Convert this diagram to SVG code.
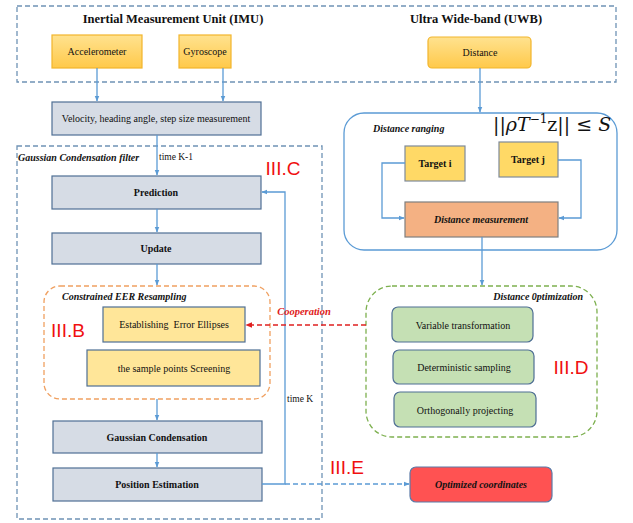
<svg xmlns="http://www.w3.org/2000/svg" width="633" height="523" viewBox="0 0 633 523">
<defs>
<linearGradient id="gold" x1="0" y1="0" x2="0" y2="1">
<stop offset="0" stop-color="#FFE28F"/><stop offset="1" stop-color="#FFC94A"/>
</linearGradient>
<marker id="ah" viewBox="0 0 10 10" refX="9" refY="5" markerWidth="6" markerHeight="6" orient="auto-start-reverse" markerUnits="userSpaceOnUse">
<path d="M0,1 L10,5 L0,9 z" fill="#5B9BD5"/>
</marker>
<marker id="ahr" viewBox="0 0 10 10" refX="9" refY="5" markerWidth="7" markerHeight="7" orient="auto" markerUnits="userSpaceOnUse">
<path d="M0,1 L10,5 L0,9 z" fill="#E02020"/>
</marker>
</defs>
<style>
text{font-family:"Liberation Serif","Times New Roman",serif;fill:#111;}
.t{font-size:10px;text-anchor:middle;}
.b{font-weight:bold;}
.bi{font-weight:bold;font-style:italic;}
.sec{font-family:"Liberation Sans",Arial,sans-serif;font-size:19px;fill:#F01010;}
.math{font-family:"DejaVu Serif","Liberation Serif",serif;font-size:19px;}
.frame{fill:none;stroke:#6F93B5;stroke-width:1.3;stroke-dasharray:5,3;}
.gold{fill:url(#gold);stroke:#F2B52C;stroke-width:1.2;}
.grey{fill:#D6DCE5;stroke:#4F6F94;stroke-width:1.2;}
.yel{fill:#FFE699;stroke:#4F6F94;stroke-width:1.2;}
.tgt{fill:#FFD966;stroke:#7F8A99;stroke-width:1.2;}
.grn{fill:#C5E0B4;stroke:#4F6F94;stroke-width:1.2;}
.line{fill:none;stroke:#5B9BD5;stroke-width:1.3;}
</style>
<rect width="633" height="523" fill="#fff"/>

<g id="imu-uwb-frame">
<rect class="frame" x="17" y="6" width="599" height="76"/>
<text class="b" x="173" y="23" font-size="12.5" text-anchor="middle">Inertial Measurement Unit (IMU)</text>
<text class="b" x="476" y="23" font-size="12.5" text-anchor="middle">Ultra Wide-band (UWB)</text>
</g>

<g id="gcf-frame">
<rect class="frame" x="17" y="146" width="305" height="373"/>
<text class="bi" x="18" y="161" font-size="10">Gaussian Condensation filter</text>
<text x="159" y="160" font-size="9.5">time K-1</text>
<text class="sec" x="283" y="175" text-anchor="middle">III.C</text>
<text x="287" y="402" font-size="9.5">time K</text>
</g>

<g id="accelerometer"><rect class="gold" x="52" y="35" width="90" height="33"/><text class="t" x="97" y="55">Accelerometer</text></g>
<g id="gyroscope"><rect class="gold" x="179" y="35" width="52" height="33"/><text class="t" x="205" y="55">Gyroscope</text></g>
<g id="distance"><rect class="gold" x="428" y="37" width="103" height="31" rx="4"/><text class="t" x="480" y="56">Distance</text></g>

<g id="velocity"><rect class="grey" x="52" y="102" width="209" height="33"/><text class="t" x="156" y="122">Velocity, heading angle, step size measurement</text></g>
<g id="prediction"><rect class="grey" x="52" y="176" width="209" height="33"/><text class="t b" x="156" y="196">Prediction</text></g>
<g id="update"><rect class="grey" x="52" y="233" width="209" height="31"/><text class="t b" x="156" y="252">Update</text></g>

<g id="eer-resampling">
<rect x="44" y="286" width="226" height="113" rx="16" fill="none" stroke="#F0A060" stroke-width="1.3" stroke-dasharray="5,3"/>
<text class="bi" x="62" y="300" font-size="10">Constrained EER Resampling</text>
<text class="sec" x="68" y="337" text-anchor="middle">III.B</text>
</g>
<g id="error-ellipses"><rect class="yel" x="103" y="307" width="142" height="35"/><text class="t" x="174" y="328" font-size="10.5" xml:space="preserve">Establishing  Error Ellipses</text></g>
<g id="screening"><rect class="yel" x="87" y="350" width="173" height="36"/><text class="t" x="174" y="372" font-size="10.5">the sample points Screening</text></g>

<g id="gaussian-condensation"><rect class="grey" x="53" y="421" width="209" height="32"/><text class="t b" x="157" y="441">Gaussian Condensation</text></g>
<g id="position-estimation"><rect class="grey" x="53" y="468" width="209" height="33"/><text class="t b" x="157" y="488">Position Estimation</text></g>

<g id="distance-ranging">
<rect x="344" y="113" width="273" height="137" rx="20" fill="none" stroke="#5B9BD5" stroke-width="1.3"/>
<text class="bi" x="373" y="132" font-size="10">Distance ranging</text>
<text class="math" x="493" y="131" xml:space="preserve">||<tspan font-style="italic">ρT</tspan><tspan font-size="12" dy="-8">−1</tspan><tspan dy="8">z|| ≤ </tspan><tspan font-style="italic">S</tspan></text>
</g>
<g id="target-i"><rect class="tgt" x="405" y="146" width="60" height="35"/><text class="t b" x="435" y="167">Target i</text></g>
<g id="target-j"><rect class="tgt" x="499" y="142" width="59" height="35"/><text class="t b" x="528" y="163">Target j</text></g>
<g id="distance-measurement"><rect x="405" y="202" width="153" height="35" fill="#F4B183" stroke="#7F7F7F" stroke-width="1.2"/><text class="t bi" x="481" y="223">Distance measurement</text></g>

<g id="distance-optimization">
<rect x="366" y="286" width="231" height="151" rx="26" fill="none" stroke="#7DB04F" stroke-width="1.3" stroke-dasharray="5,3"/>
<text class="bi" x="583" y="300" font-size="10" text-anchor="end">Distance 0ptimization</text>
<text class="sec" x="571" y="374" text-anchor="middle">III.D</text>
</g>
<g id="variable-transformation"><rect class="grn" x="392" y="307" width="141" height="35" rx="6"/><text class="t" x="463" y="329" font-size="11.5">Variable transformation</text></g>
<g id="deterministic-sampling"><rect class="grn" x="393" y="350" width="141" height="34" rx="6"/><text class="t" x="464" y="371" font-size="11.5">Deterministic sampling</text></g>
<g id="orthogonally-projecting"><rect class="grn" x="394" y="392" width="142" height="35" rx="6"/><text class="t" x="465" y="414" font-size="11.5">Orthogonally projecting</text></g>

<g id="optimized-coordinates"><rect x="410" y="467" width="142" height="35" rx="6" fill="#FF5252" stroke="#5B7BA8" stroke-width="1.2"/><text class="t bi" x="481" y="488">Optimized coordinates</text></g>
<g id="label-iiie"><text class="sec" x="347" y="474" text-anchor="middle">III.E</text></g>

<g id="connectors">
<path class="line" d="M97,68 V101" marker-end="url(#ah)"/>
<path class="line" d="M223,68 V101" marker-end="url(#ah)"/>
<path class="line" d="M157,135 V175" marker-end="url(#ah)"/>
<path class="line" d="M157,209 V232" marker-end="url(#ah)"/>
<path class="line" d="M157,264 V285" marker-end="url(#ah)"/>
<path class="line" d="M157,399 V420" marker-end="url(#ah)"/>
<path class="line" d="M157,453 V467" marker-end="url(#ah)"/>
<path class="line" d="M262,484 H285 V192 H262" marker-end="url(#ah)"/>
<path class="line" d="M285,484 H409" stroke-dasharray="5,3" marker-end="url(#ah)"/>
<path class="line" d="M480,68 V112" marker-end="url(#ah)"/>
<path class="line" d="M405,163 H382 V218 H404" marker-end="url(#ah)"/>
<path class="line" d="M558,160 H581 V218 H559" marker-end="url(#ah)"/>
<path class="line" d="M482,237 V285" marker-end="url(#ah)"/>
<path d="M366,325 H246" fill="none" stroke="#E02020" stroke-width="1.3" stroke-dasharray="5,3" marker-end="url(#ahr)"/>
<text class="bi" x="304" y="315" font-size="10.5" text-anchor="middle" style="fill:#E02020">Cooperation</text>
</g>
</svg>
